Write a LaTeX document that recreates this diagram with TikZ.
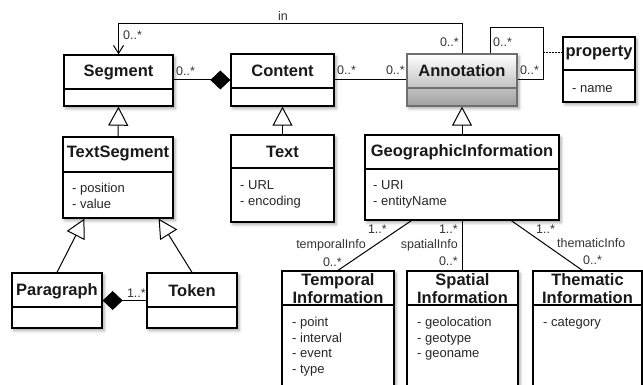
\documentclass[tikz,border=0pt]{standalone}
\usepackage{fontspec}
\setmainfont{Liberation Sans}
\usetikzlibrary{arrows.meta,fit,shadows.blur,calc}
\definecolor{annborder}{RGB}{110,110,110}
\definecolor{annbot}{RGB}{160,160,160}
\tikzset{
 classbox/.style={draw=black, line width=1.3pt, fill=white, inner sep=0pt,
   blur shadow={shadow xshift=2pt, shadow yshift=-2.5pt, shadow blur radius=3pt, shadow opacity=35}},
 divider/.style={line width=1.1pt},
 ttl/.style={font=\fontsize{16.5}{18}\selectfont\bfseries, text=black!90, inner sep=0pt, align=center},
 attr/.style={font=\fontsize{13}{15}\selectfont, text=black!85, anchor=base west, inner sep=0pt},
 lbl/.style={font=\fontsize{12.5}{14}\selectfont, text=black!80, inner sep=0pt},
 conn/.style={line width=1pt},
 gen/.style={conn, -{Triangle[open, length=19pt, width=20pt, line width=1pt]}},
 comp/.style={conn, -{Diamond[length=20pt, width=19pt]}},
 nav/.style={conn, -{Straight Barb[length=8pt, width=10pt, line width=1pt]}},
}
\newcommand\umlbox[6]{%
  \node[classbox, fit={(#2,#3) (#4,#5)}] (#1) {};
  \draw[divider] (#2,#6) -- (#4,#6);}
\begin{document}
\begin{tikzpicture}[x=1pt,y=-1pt]
\useasboundingbox (0,0) rectangle (643,385);
\clip (0,0) rectangle (643,385);

% classes
\umlbox{seg}{64}{55}{173}{106}{89}
\node[ttl] (segT) at (118.5,72) {Segment};

\umlbox{content}{231}{54}{334}{106}{88}
\node[ttl] (contentT) at (282.5,71) {Content};

\node[fit={(407,54) (517,106)}, inner sep=0pt, draw=annborder, line width=1.3pt,
  top color=white, bottom color=annbot,
  blur shadow={shadow xshift=2pt, shadow yshift=-2.5pt, shadow blur radius=3pt, shadow opacity=35}] (ann) {};
\draw[divider, draw=annborder] (407,88) -- (517,88);
\node[ttl] (annT) at (462,71) {Annotation};

\umlbox{prop}{563}{37}{635}{102}{70}
\node[ttl] (propT) at (599,53) {property};
\node[attr] (propA) at (572,92.5) {- name};

\umlbox{ts}{63}{137}{173}{218}{172}
\node[ttl] (tsT) at (118,153) {TextSegment};
\node[attr] (tsA1) at (72,192.5) {- position};
\node[attr] (tsA2) at (72,208.5) {- value};

\umlbox{text}{231}{135}{334}{222}{168}
\node[ttl] (textT) at (282.5,152) {Text};
\node[attr] (textA1) at (240,189.5) {- URL};
\node[attr] (textA2) at (240,205) {- encoding};

\umlbox{geo}{365}{135}{559}{220}{169}
\node[ttl] (geoT) at (462,152) {GeographicInformation};
\node[attr] (geoA1) at (373,189.5) {- URI};
\node[attr] (geoA2) at (373,205) {- entityName};

\umlbox{para}{12}{273}{102}{328}{307}
\node[ttl] (paraT) at (57,291) {Paragraph};

\umlbox{token}{147}{273}{237}{328}{307}
\node[ttl] (tokenT) at (192,291) {Token};

\umlbox{temp}{282}{271}{394}{392}{305}
\node[ttl] (tempT) at (338,289) {Temporal\\Information};
\node[attr] (tempA1) at (292,326.5) {- point};
\node[attr] (tempA2) at (292,342) {- interval};
\node[attr] (tempA3) at (292,357.5) {- event};
\node[attr] (tempA4) at (292,373) {- type};

\umlbox{spat}{407}{271}{518}{392}{305}
\node[ttl] (spatT) at (462.5,289) {Spatial\\Information};
\node[attr] (spatA1) at (417,326.5) {- geolocation};
\node[attr] (spatA2) at (417,342) {- geotype};
\node[attr] (spatA3) at (417,357.5) {- geoname};

\umlbox{them}{533}{271}{642}{392}{305}
\node[ttl] (themT) at (587.5,289) {Thematic\\Information};
\node[attr] (themA1) at (543,326.5) {- category};

% in association
\draw[nav] (ann.north) -- ++(0,-30) -| (seg.north);
\node[lbl] (inL) at (283,16) {in};
\node[lbl, anchor=west] (inS) at (123,35) {0..*};
\node[lbl, anchor=east] (inA) at (459,42) {0..*};

% self association on Annotation
\coordinate (loopc) at (543,28);
\draw[conn] ($(ann.north)+(28,0)$) |- (loopc) |- (ann.east);
\node[lbl, anchor=west] (loop1) at (493,42) {0..*};
\node[lbl, anchor=west] (loop2) at (520,70) {0..*};
\coordinate (dotc) at (543,53);
\draw[conn, dash pattern=on 1.5pt off 1.5pt] (dotc) -- (dotc -| prop.west);

% Segment - Content
\draw[comp] (content.west -| seg.east) -- (content.west);
\node[lbl, anchor=west] (sc1) at (176,71) {0..*};
% Content - Annotation
\draw[conn] (content.east) -- (ann.west);
\node[lbl, anchor=west] (ca1) at (337,70) {0..*};
\node[lbl, anchor=east] (ca2) at (405,70) {0..*};

% generalizations
\draw[gen] (ts.north) -- (seg.south);
\draw[gen] (text.north) -- (content.south);
\draw[gen] (geo.north) -- (ann.south);
\draw[gen] (para.north) -- ($(ts.south west)+(22,0)$);
\draw[gen] (token.north) -- ($(ts.south east)+(-15,0)$);

% Paragraph - Token
\draw[comp] (token.west) -- (para.east);
\node[lbl, anchor=east] (pt1) at (146,293) {1..*};

% Geographic information associations
\draw[conn] ($(geo.south west)+(47,0)$) -- (temp.north);
\draw[conn] (geo.south) -- (geo.south |- spat.north);
\draw[conn] ($(geo.south west)+(147,0)$) -- ($(them.north west)+(50,0)$);

\node[lbl, anchor=east] (t1) at (387,229) {1..*};
\node[lbl] (t2) at (331,245) {temporalInfo};
\node[lbl, anchor=east] (t3) at (342,262) {0..*};

\node[lbl, anchor=east] (s1) at (458,229) {1..*};
\node[lbl, anchor=east] (s2) at (458,245) {spatialInfo};
\node[lbl, anchor=east] (s3) at (458,261) {0..*};

\node[lbl, anchor=west] (h1) at (536,229) {1..*};
\node[lbl, anchor=west] (h2) at (557,243) {thematicInfo};
\node[lbl, anchor=west] (h3) at (583,260) {0..*};
\end{tikzpicture}
\end{document}
